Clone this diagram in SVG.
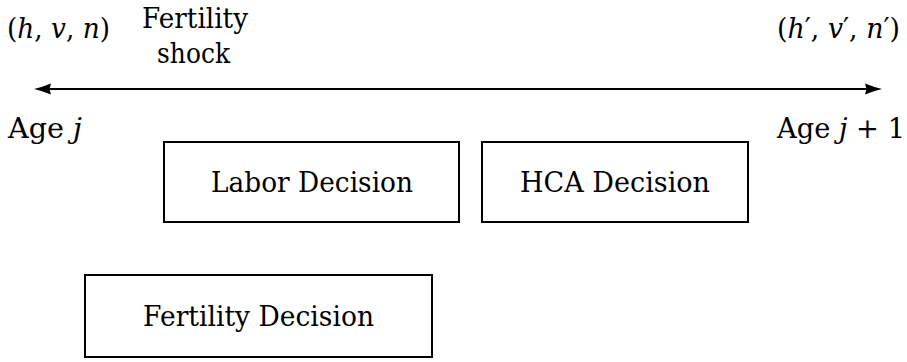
<svg xmlns="http://www.w3.org/2000/svg" width="907" height="362" viewBox="0 0 907 362">
  <style>
    text { font-family: "DejaVu Serif", "Liberation Serif", serif; font-size: 27px; fill: #000; }
    .m { font-style: italic; }
    .box { fill: #fff; stroke: #000; stroke-width: 2; }
    .axis { fill: none; stroke: #000; stroke-width: 2.2; }
  </style>
  <defs>
    <marker id="head" markerUnits="userSpaceOnUse" markerWidth="20" markerHeight="14" refX="7" refY="6" orient="auto-start-reverse" viewBox="0 0 20 12">
      <path d="M0,0.5 Q9,4.2 17,6 Q9,7.8 0,11.5 L1.5,6 Z" fill="#000"/>
    </marker>
  </defs>
  <rect width="907" height="362" fill="#fff"/>
  <g id="connectors">
    <path class="axis" d="M44,89 L872,89" marker-start="url(#head)" marker-end="url(#head)"/>
  </g>
  <g id="labels">
    <text x="7" y="38" textLength="103" lengthAdjust="spacingAndGlyphs">(<tspan class="m">h</tspan>, <tspan class="m">v</tspan>, <tspan class="m">n</tspan>)</text>
    <text x="142" y="28" textLength="106" lengthAdjust="spacingAndGlyphs">Fertility</text>
    <text x="157" y="63" textLength="73" lengthAdjust="spacingAndGlyphs">shock</text>
    <text x="777" y="38" textLength="123" lengthAdjust="spacingAndGlyphs">(<tspan class="m">h</tspan>′, <tspan class="m">v</tspan>′, <tspan class="m">n</tspan>′)</text>
    <text x="8" y="138" textLength="74" lengthAdjust="spacingAndGlyphs">Age <tspan class="m">j</tspan></text>
    <text x="777" y="138" textLength="128" lengthAdjust="spacingAndGlyphs">Age <tspan class="m">j</tspan> + 1</text>
  </g>
  <g id="labor">
    <rect class="box" x="164" y="142" width="295" height="80"/>
    <text x="211" y="192" textLength="202" lengthAdjust="spacingAndGlyphs">Labor Decision</text>
  </g>
  <g id="hca">
    <rect class="box" x="482" y="142" width="266" height="80"/>
    <text x="520" y="192" textLength="190" lengthAdjust="spacingAndGlyphs">HCA Decision</text>
  </g>
  <g id="fertility">
    <rect class="box" x="85" y="275" width="347" height="82"/>
    <text x="143" y="326" textLength="231" lengthAdjust="spacingAndGlyphs">Fertility Decision</text>
  </g>
</svg>
